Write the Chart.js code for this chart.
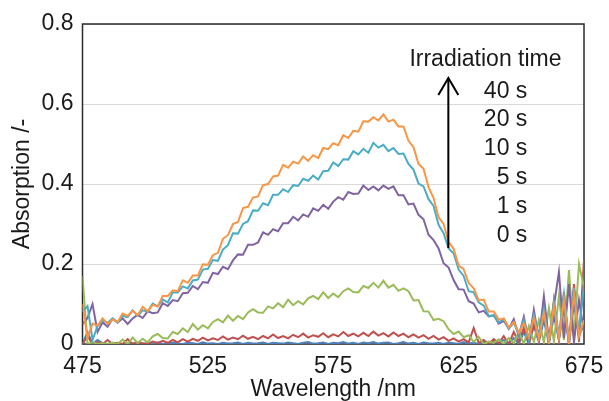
<!DOCTYPE html>
<html>
<head>
<meta charset="utf-8">
<script src="https://cdn.jsdelivr.net/npm/chart.js@4"></script>
<style>
  html, body { margin: 0; padding: 0; background: #fff; }
  #wrap { width: 609px; height: 401px; }
</style>
</head>
<body>
<div id="wrap"><canvas id="chart" width="609" height="401"></canvas></div>
<script>
// wavelength /nm (every 2 nm)
const wavelengths = [
  475,477,479,481,483,485,487,489,491,493,
  495,497,499,501,503,505,507,509,511,513,
  515,517,519,521,523,525,527,529,531,533,
  535,537,539,541,543,545,547,549,551,553,
  555,557,559,561,563,565,567,569,571,573,
  575,577,579,581,583,585,587,589,591,593,
  595,597,599,601,603,605,607,609,611,613,
  615,617,619,621,623,625,627,629,631,633,
  635,637,639,641,643,645,647,649,651,653,
  655,657,659,661,663,665,667,669,671,673,
  675
];

const abs40s = [
  0.100,0.015,0.051,0.046,0.064,0.050,0.062,0.055,0.076,0.070,
  0.083,0.072,0.093,0.082,0.098,0.094,0.120,0.120,0.134,0.132,
  0.159,0.153,0.171,0.171,0.199,0.198,0.222,0.228,0.263,0.272,
  0.300,0.305,0.340,0.343,0.366,0.369,0.397,0.400,0.419,0.421,
  0.448,0.441,0.456,0.451,0.469,0.458,0.472,0.465,0.490,0.487,
  0.502,0.497,0.522,0.515,0.533,0.531,0.557,0.556,0.567,0.559,
  0.574,0.556,0.561,0.544,0.544,0.508,0.492,0.450,0.438,0.392,
  0.365,0.317,0.300,0.255,0.238,0.196,0.187,0.153,0.139,0.109,
  0.111,0.081,0.081,0.061,0.064,0.041,0.055,0.028,0.052,0.018,
  0.065,0.012,0.078,0.006,0.095,0.015,0.110,0.004,0.125,0.020,
  0.060
];
const abs20s = [
  0.080,0.095,0.010,0.045,0.058,0.053,0.064,0.053,0.070,0.067,
  0.084,0.071,0.084,0.081,0.101,0.094,0.111,0.104,0.129,0.129,
  0.144,0.139,0.159,0.161,0.186,0.188,0.210,0.208,0.236,0.247,
  0.277,0.276,0.300,0.307,0.334,0.333,0.352,0.347,0.373,0.373,
  0.387,0.380,0.397,0.395,0.413,0.408,0.421,0.411,0.432,0.433,
  0.454,0.445,0.462,0.461,0.482,0.474,0.488,0.478,0.503,0.491,
  0.498,0.482,0.490,0.475,0.476,0.450,0.436,0.401,0.394,0.362,
  0.345,0.298,0.277,0.239,0.227,0.186,0.170,0.132,0.129,0.104,
  0.096,0.070,0.071,0.054,0.062,0.038,0.053,0.024,0.060,0.010,
  0.072,0.022,0.088,0.004,0.105,0.020,0.125,0.003,0.140,0.025,
  0.150
];
const abs10s = [
  0.050,0.065,0.100,0.030,0.054,0.043,0.063,0.054,0.064,0.050,
  0.064,0.073,0.065,0.082,0.077,0.079,0.102,0.095,0.110,0.107,
  0.127,0.128,0.145,0.137,0.155,0.153,0.178,0.175,0.193,0.187,
  0.209,0.224,0.223,0.248,0.248,0.254,0.279,0.273,0.287,0.282,
  0.302,0.302,0.318,0.309,0.324,0.318,0.339,0.333,0.348,0.338,
  0.356,0.367,0.361,0.380,0.375,0.376,0.396,0.385,0.394,0.384,
  0.396,0.388,0.394,0.372,0.372,0.349,0.351,0.323,0.312,0.273,
  0.260,0.239,0.202,0.191,0.160,0.137,0.136,0.107,0.101,0.079,
  0.083,0.069,0.072,0.051,0.058,0.038,0.062,0.020,0.068,0.005,
  0.085,0.012,0.120,0.008,0.095,0.180,0.015,0.150,0.004,0.110,
  0.030
];
const abs5s = [
  0.170,0.000,0.005,0.000,0.002,0.000,0.003,0.000,0.011,0.000,
  0.016,0.002,0.013,0.004,0.019,0.025,0.015,0.014,0.030,0.025,
  0.039,0.030,0.050,0.036,0.047,0.039,0.055,0.062,0.054,0.071,
  0.058,0.070,0.062,0.079,0.087,0.079,0.078,0.094,0.089,0.102,
  0.092,0.111,0.097,0.107,0.099,0.114,0.120,0.112,0.129,0.115,
  0.126,0.117,0.132,0.139,0.130,0.129,0.145,0.140,0.153,0.141,
  0.158,0.141,0.148,0.133,0.139,0.132,0.109,0.110,0.082,0.081,
  0.060,0.063,0.057,0.037,0.025,0.031,0.017,0.022,0.005,0.018,
  0.000,0.006,0.003,0.012,0.000,0.015,0.002,0.030,0.000,0.045,
  0.005,0.060,0.004,0.090,0.006,0.120,0.010,0.185,0.015,0.200,
  0.140
];
const abs1s = [
  0.000,0.020,0.000,0.005,0.000,0.010,0.000,0.003,0.000,0.012,
  0.000,0.004,0.002,0.000,0.006,0.002,0.008,0.003,0.010,0.004,
  0.012,0.006,0.013,0.008,0.016,0.009,0.014,0.010,0.019,0.011,
  0.016,0.012,0.021,0.013,0.018,0.012,0.020,0.014,0.024,0.015,
  0.020,0.014,0.023,0.017,0.026,0.016,0.022,0.018,0.027,0.017,
  0.024,0.019,0.030,0.020,0.026,0.019,0.028,0.020,0.031,0.021,
  0.027,0.019,0.029,0.020,0.026,0.017,0.024,0.016,0.022,0.013,
  0.020,0.011,0.017,0.008,0.014,0.006,0.012,0.004,0.040,0.003,
  0.010,0.000,0.012,0.002,0.020,0.000,0.030,0.005,0.040,0.000,
  0.050,0.008,0.100,0.004,0.110,0.010,0.130,0.000,0.150,0.005,
  0.210
];
const abs0s = [
  0.000,0.030,0.000,0.010,0.002,0.000,0.003,0.001,0.000,0.002,
  0.001,0.003,0.000,0.002,0.001,0.004,0.000,0.002,0.003,0.001,
  0.000,0.003,0.002,0.000,0.004,0.001,0.002,0.000,0.003,0.001,
  0.002,0.004,0.000,0.003,0.001,0.002,0.004,0.000,0.003,0.002,
  0.001,0.004,0.002,0.000,0.003,0.005,0.001,0.002,0.004,0.000,
  0.003,0.002,0.005,0.001,0.003,0.000,0.004,0.002,0.005,0.001,
  0.003,0.004,0.000,0.002,0.005,0.001,0.003,0.000,0.004,0.002,
  0.001,0.003,0.000,0.004,0.002,0.000,0.005,0.001,0.003,0.000,
  0.006,0.000,0.008,0.002,0.010,0.000,0.015,0.000,0.030,0.000,
  0.045,0.005,0.060,0.000,0.070,0.010,0.090,0.000,0.100,0.020,
  0.050
];

const seriesNames = ['40 s', '20 s', '10 s', '5 s', '1 s', '0 s'];
const seriesValues = [abs40s, abs20s, abs10s, abs5s, abs1s, abs0s];
const seriesColors = ['#F79646', '#4BACC6', '#8064A2', '#9BBB59', '#C0504D', '#4F81BD'];

const xTicks = [475, 525, 575, 625, 675];
const yTicks = [0, 0.2, 0.4, 0.6, 0.8];
const arrowTitle = 'Irradiation time';

const FONT = 'Liberation Sans, Arial, sans-serif';
const TEXT = '#1a1a1a';

// frame box, arrow and the irradiation-time labels
const overlay = {
  id: 'overlay',
  beforeDatasetsDraw(chart) {
    const { ctx, chartArea: a } = chart;
    ctx.save();
    ctx.strokeStyle = '#2b2b2b';
    ctx.lineWidth = 1.5;
    ctx.strokeRect(a.left, a.top, a.right - a.left, a.bottom - a.top);
    ctx.restore();
  },
  afterDatasetsDraw(chart) {
    const { ctx, scales: { x, y } } = chart;
    ctx.save();
    ctx.fillStyle = TEXT;
    ctx.font = '23px ' + FONT;
    ctx.textBaseline = 'middle';
    ctx.textAlign = 'center';
    ctx.fillText(arrowTitle, x.getPixelForValue(635.7), y.getPixelForValue(0.71));

    ctx.textAlign = 'right';
    const labelX = x.getPixelForValue(652.4);
    seriesNames.forEach((name, i) => {
      ctx.fillText(name, labelX, y.getPixelForValue(0.632 - i * 0.072));
    });

    // arrow
    const ax = x.getPixelForValue(620.9);
    const top = y.getPixelForValue(0.665);
    const bot = y.getPixelForValue(0.24);
    ctx.strokeStyle = '#000';
    ctx.lineWidth = 2;
    ctx.beginPath();
    ctx.moveTo(ax, bot);
    ctx.lineTo(ax, top);
    ctx.stroke();
    ctx.beginPath();
    ctx.moveTo(ax - 10, top + 17);
    ctx.lineTo(ax, top);
    ctx.lineTo(ax + 10, top + 17);
    ctx.stroke();
    ctx.restore();
  }
};

new Chart(document.getElementById('chart'), {
  type: 'line',
  data: {
    datasets: seriesNames.map((name, i) => ({
      label: name,
      data: wavelengths.map((w, j) => ({ x: w, y: seriesValues[i][j] })),
      borderColor: seriesColors[i],
      backgroundColor: seriesColors[i],
      borderWidth: 2,
      pointRadius: 0,
      tension: 0
    }))
  },
  options: {
    responsive: false,
    animation: false,
    layout: { autoPadding: false, padding: { top: 24, right: 25, left: 0, bottom: 0 } },
    plugins: {
      legend: { display: false },
      tooltip: { enabled: false }
    },
    scales: {
      x: {
        type: 'linear',
        min: 475,
        max: 675,
        afterBuildTicks: (axis) => { axis.ticks = xTicks.map(v => ({ value: v })); },
        afterFit: (axis) => {
          axis.height = 57;
          axis.paddingLeft = 0;
          axis.paddingRight = 0;
        },
        grid: { display: false, drawTicks: false },
        border: { display: false },
        ticks: {
          padding: 9,
          color: TEXT,
          font: { family: FONT, size: 23 },
          maxRotation: 0
        },
        title: {
          display: true,
          text: 'Wavelength /nm',
          color: TEXT,
          font: { family: FONT, size: 23 },
          padding: { top: 0, bottom: -2 }
        }
      },
      y: {
        min: 0,
        max: 0.8,
        afterBuildTicks: (axis) => { axis.ticks = yTicks.map(v => ({ value: v })); },
        afterFit: (axis) => { axis.width = 82.5; },
        grid: { color: '#d9d9d9', lineWidth: 1, drawTicks: false },
        border: { display: false },
        ticks: {
          padding: 9,
          color: TEXT,
          font: { family: FONT, size: 23 }
        },
        title: {
          display: true,
          text: 'Absorption /-',
          color: TEXT,
          font: { family: FONT, size: 23 },
          padding: { top: 9, bottom: 0 }
        }
      }
    }
  },
  plugins: [overlay]
});
</script>
</body>
</html>
